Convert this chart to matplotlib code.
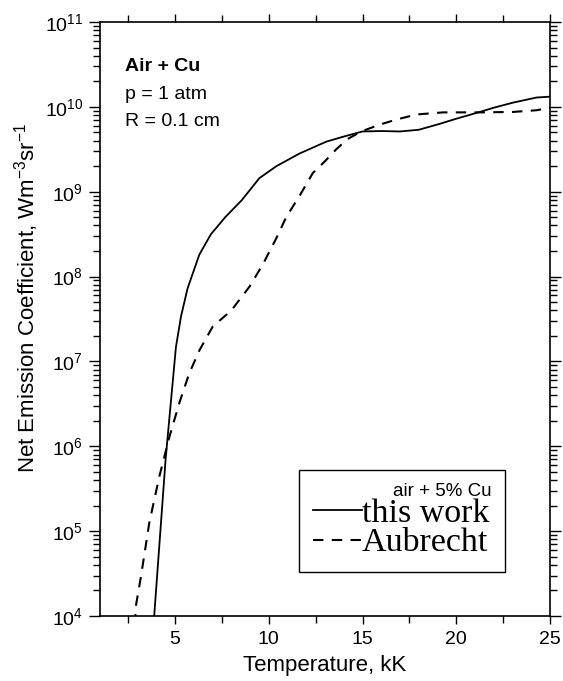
import matplotlib
matplotlib.use('Agg')
import matplotlib.pyplot as plt
import numpy as np
from matplotlib.ticker import MultipleLocator, LogLocator, NullFormatter

plt.rcParams['font.family'] = ['Liberation Sans', 'DejaVu Sans']
plt.rcParams['mathtext.default'] = 'regular'

# this work (log10 of net emission coefficient)
t_this = [3.89, 4.5, 5.05, 5.32, 5.67, 6.30, 6.92, 7.68, 8.56, 9.5, 10.4, 11.64,
          13.07, 14.0, 15.0, 16.0, 17.0, 18.0, 19.12, 20.0, 21.26, 22.0, 23.03, 24.28, 25.0]
lg_this = [4.0, 5.85, 7.17, 7.53, 7.86, 8.26, 8.50, 8.70, 8.90, 9.16, 9.30, 9.45,
           9.59, 9.65, 9.71, 9.715, 9.71, 9.73, 9.80, 9.86, 9.94, 9.99, 10.05, 10.11, 10.12]

# Aubrecht
t_aub = [2.87, 2.9, 3.18, 3.63, 4.16, 4.70, 5.23, 5.76, 6.30, 7.01, 8.0, 8.97, 9.7,
         10.4, 10.93, 11.64, 12.35, 13.0, 13.6, 14.2, 14.93, 15.91, 16.8, 17.87, 19.3,
         21.26, 23.03, 24.28, 25.0]
lg_aub = [3.9, 4.1, 4.46, 5.10, 5.64, 6.11, 6.51, 6.86, 7.13, 7.41, 7.60, 7.88, 8.15,
          8.45, 8.70, 8.95, 9.22, 9.36, 9.50, 9.62, 9.71, 9.79, 9.85, 9.91, 9.935,
          9.935, 9.94, 9.96, 9.99]

fig = plt.figure(figsize=(5.63, 6.81), dpi=100)
ax = fig.add_axes([100 / 563, 65 / 681, 450 / 563, 594 / 681])

ax.plot(t_this, 10 ** np.array(lg_this), color='black', lw=1.3, label='this work')
ax.plot(t_aub, 10 ** np.array(lg_aub), color='black', lw=1.5, ls=(0, (5, 4)), label='Aubrecht')

ax.set_yscale('log')
ax.set_xlim(1, 25)
ax.set_ylim(1e4, 1e11)
ax.xaxis.set_major_locator(MultipleLocator(5))
ax.xaxis.set_minor_locator(MultipleLocator(2.5))
ax.yaxis.set_major_locator(LogLocator(base=10, numticks=20))
ax.yaxis.set_minor_locator(LogLocator(base=10, subs=np.arange(2, 10), numticks=20))
ax.yaxis.set_minor_formatter(NullFormatter())

ax.tick_params(which='both', direction='out', top=True, right=True, labelsize=14, width=1)
ax.tick_params(axis='x', which='major', length=6, pad=5)
ax.tick_params(axis='x', which='minor', length=5)
ax.tick_params(axis='y', which='major', length=8, pad=4)
ax.tick_params(axis='y', which='minor', length=5)
for s in ax.spines.values():
    s.set_linewidth(1.2)

ax.set_xlabel('Temperature, kK', fontsize=16, labelpad=5)
ax.set_ylabel('Net Emission Coefficient, Wm$^{-3}$sr$^{-1}$', fontsize=16)
ax.yaxis.set_label_coords(-0.13, 0.535)

ax.text(0.055, 0.925, 'Air + Cu', transform=ax.transAxes, fontsize=14, fontweight='bold', va='center')
ax.text(0.055, 0.878, 'p = 1 atm', transform=ax.transAxes, fontsize=14, va='center')
ax.text(0.055, 0.832, 'R = 0.1 cm', transform=ax.transAxes, fontsize=14, va='center')

leg = ax.legend(loc='lower left', bbox_to_anchor=(0.442, 0.074, 0.458, 0.185), mode='expand',
                title='air + 5% Cu', title_fontproperties={'family': 'Liberation Sans', 'size': 13.5},
                prop={'family': 'Liberation Serif', 'size': 24.5}, handlelength=1.45,
                handletextpad=0, labelspacing=-0.05, borderpad=0.4, fancybox=False,
                edgecolor='black', framealpha=1, borderaxespad=0, alignment='right')
leg.get_frame().set_linewidth(1)

fig.savefig('out.png', dpi=100)
